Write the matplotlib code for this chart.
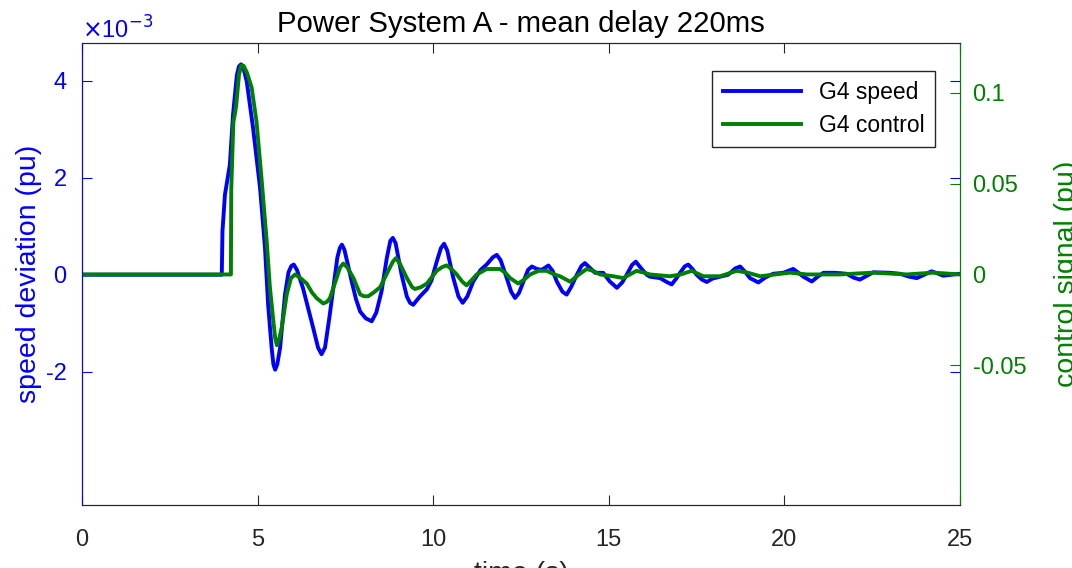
import numpy as np
import matplotlib
matplotlib.use("Agg")
import matplotlib.pyplot as plt

plt.rcParams['font.family'] = ['Liberation Sans', 'DejaVu Sans']
plt.rcParams['axes.unicode_minus'] = False

# G4 speed deviation (x1e-3 pu)
t_speed = [0.0, 3.98, 4.00, 4.07, 4.21, 4.30, 4.41, 4.47, 4.53, 4.60, 4.69, 4.87,
           5.07, 5.21, 5.30, 5.40, 5.45, 5.50, 5.56, 5.64, 5.78, 5.88, 5.96, 6.03,
           6.12, 6.29, 6.45, 6.58, 6.72, 6.82, 6.92, 7.05, 7.15, 7.27, 7.34, 7.40,
           7.47, 7.58, 7.68, 7.80, 7.92, 8.08, 8.25, 8.38, 8.53, 8.68, 8.78, 8.85,
           8.93, 9.10, 9.25, 9.34, 9.43, 9.62, 9.82, 9.95, 10.10, 10.22, 10.31, 10.40,
           10.57, 10.72, 10.84, 10.97, 11.14, 11.35, 11.52, 11.70, 11.81, 11.92, 12.09,
           12.22, 12.33, 12.44, 12.57, 12.70, 12.81, 12.95, 13.09, 13.28, 13.40, 13.52,
           13.68, 13.80, 13.93, 14.09, 14.22, 14.32, 14.45, 14.61, 14.84, 15.03, 15.23,
           15.38, 15.51, 15.66, 15.77, 15.90, 16.08, 16.17, 16.46, 16.65, 16.79, 16.92,
           17.03, 17.16, 17.26, 17.38, 17.50, 17.65, 17.79, 17.95, 18.17, 18.40, 18.60,
           18.74, 18.88, 19.02, 19.26, 19.45, 19.68, 19.97, 20.25, 20.40, 20.54, 20.78,
           20.95, 21.11, 21.44, 21.77, 21.97, 22.15, 22.35, 22.53, 23.01, 23.29, 23.55,
           23.77, 23.98, 24.19, 24.35, 24.52, 25.0]
speed = [0.0, 0.0, 0.9, 1.65, 2.27, 3.30, 4.12, 4.30, 4.34, 4.25, 3.99, 3.03,
         1.79, 0.56, -0.62, -1.51, -1.85, -1.96, -1.85, -1.51, -0.41, 0.05, 0.18, 0.21,
         0.10, -0.27, -0.72, -1.09, -1.50, -1.64, -1.50, -0.85, -0.31, 0.35, 0.55, 0.62,
         0.52, 0.18, -0.14, -0.50, -0.76, -0.90, -0.96, -0.78, -0.34, 0.35, 0.70, 0.76,
         0.65, 0.0, -0.45, -0.58, -0.62, -0.45, -0.30, -0.12, 0.27, 0.55, 0.64, 0.50,
         -0.06, -0.45, -0.58, -0.45, -0.14, 0.10, 0.21, 0.36, 0.41, 0.30, -0.06,
         -0.35, -0.48, -0.38, -0.14, 0.10, 0.17, 0.12, 0.10, 0.19, 0.08, -0.14,
         -0.35, -0.41, -0.25, 0.0, 0.18, 0.24, 0.15, 0.04, 0.04, -0.14, -0.27,
         -0.16, 0.0, 0.20, 0.27, 0.15, 0.0, -0.04, -0.07, -0.15, -0.20, -0.08,
         0.04, 0.17, 0.21, 0.12, 0.0, -0.10, -0.15, -0.08, -0.04, 0.0, 0.13,
         0.17, 0.06, -0.07, -0.16, -0.06, 0.02, 0.04, 0.12, 0.04, -0.04, -0.14,
         -0.04, 0.04, 0.04, 0.02, -0.06, -0.10, -0.02, 0.05, 0.04, 0.02, -0.04,
         -0.07, 0.0, 0.07, 0.03, -0.02, 0.02]

# G4 control signal (pu)
t_ctrl = [0.0, 4.24, 4.25, 4.31, 4.35, 4.39, 4.47, 4.53, 4.60, 4.70, 4.83, 4.97,
          5.12, 5.26, 5.35, 5.45, 5.50, 5.55, 5.62, 5.69, 5.83, 5.95, 6.07, 6.22,
          6.40, 6.55, 6.68, 6.87, 6.98, 7.06, 7.25, 7.35, 7.44, 7.55, 7.73, 7.92,
          8.03, 8.15, 8.30, 8.49, 8.72, 8.85, 8.94, 9.05, 9.25, 9.40, 9.48, 9.65,
          9.82, 10.10, 10.25, 10.38, 10.52, 10.67, 10.83, 10.95, 11.10, 11.24, 11.52,
          11.90, 12.05, 12.19, 12.42, 12.58, 12.76, 13.00, 13.23, 13.45, 13.61, 13.90,
          14.15, 14.37, 14.55, 14.75, 15.13, 15.41, 15.60, 15.79, 16.00, 16.17, 16.74,
          17.05, 17.36, 17.69, 18.17, 18.64, 18.95, 19.31, 20.16, 20.64, 21.58, 22.53,
          23.48, 24.24, 25.0]
ctrl = [0.0, 0.0, 0.047, 0.084, 0.088, 0.093, 0.110, 0.115, 0.115, 0.111, 0.103, 0.084,
        0.051, 0.018, -0.007, -0.026, -0.035, -0.039, -0.035, -0.029, -0.011, -0.002, 0.0, -0.002,
        -0.005, -0.010, -0.013, -0.016, -0.015, -0.013, -0.002, 0.004, 0.006, 0.004, -0.002, -0.011,
        -0.012, -0.012, -0.010, -0.007, 0.002, 0.007, 0.009, 0.006, -0.002, -0.007, -0.008, -0.007,
        -0.005, 0.002, 0.004, 0.005, 0.003, 0.0, -0.004, -0.006, -0.003, 0.0, 0.003,
        0.003, 0.001, -0.002, -0.005, -0.003, 0.0, 0.002, 0.002, 0.0, -0.001, -0.004,
        0.0, 0.003, 0.002, 0.0, -0.001, -0.002, 0.0, 0.002, 0.001, 0.0, -0.001,
        0.0, 0.002, -0.001, -0.001, 0.002, 0.001, -0.001, 0.001, 0.0, 0.0, 0.001,
        0.0, 0.001, 0.0]

x_ticks = [0, 5, 10, 15, 20, 25]
left_ticks = [-2, 0, 2, 4]
right_ticks = [-0.05, 0, 0.05, 0.1]
right_labels = ['-0.05', '0', '0.05', '0.1']

BLUE = '#0000ff'
GREEN = '#008000'
GRAY = '#262626'

fig = plt.figure(figsize=(10.72, 5.68), dpi=100)
ax1 = fig.add_axes([82 / 1072, 63 / 568, 878 / 1072, 462 / 568])
ax2 = ax1.twinx()

l1, = ax1.plot(t_speed, speed, color=BLUE, lw=2.8, label='G4 speed')
l2, = ax2.plot(t_ctrl, ctrl, color=GREEN, lw=2.8, label='G4 control')

ax1.set_xlim(0, 25)
ax1.set_ylim(-4.75, 4.78)
ax2.set_ylim(-0.127, 0.1275)

ax1.set_xticks(x_ticks)
ax1.set_yticks(left_ticks)
ax2.set_yticks(right_ticks)
ax2.set_yticklabels(right_labels)

ax1.tick_params(axis='x', direction='in', length=7, top=True, colors=GRAY,
                labelsize=17, pad=17)
ax1.tick_params(axis='y', direction='in', length=7, right=True, colors=BLUE,
                labelsize=17, pad=11)
ax2.tick_params(axis='y', direction='in', length=7, colors=GREEN,
                labelsize=17, pad=9)

for sp in ('top', 'bottom'):
    ax1.spines[sp].set_color(GRAY)
    ax2.spines[sp].set_color(GRAY)
ax1.spines['left'].set_color(BLUE)
ax2.spines['left'].set_color(BLUE)
ax1.spines['right'].set_color(GREEN)
ax2.spines['right'].set_color(GREEN)

ax1.set_ylabel('speed deviation (pu)', color=BLUE, fontsize=20.5)
ax1.yaxis.set_label_coords(-0.045, 0.5)
ax2.set_ylabel('control signal (pu)', color=GREEN, fontsize=20.5, rotation=90)
ax2.yaxis.set_label_coords(1.107, 0.5)
ax1.set_xlabel('time (s)', color=GRAY, fontsize=20.5)
ax1.xaxis.set_label_coords(0.5, -0.122)

ax1.set_title('Power System A - mean delay 220ms', fontsize=21.2, color='black', pad=8)
ax1.text(0, 0.998, r'$\times$10$^{-3}$', transform=ax1.transAxes, color=BLUE,
         fontsize=17, ha='left', va='bottom')

leg = ax2.legend(handles=[l1, l2], loc='upper right', bbox_to_anchor=(0.9715, 0.939),
                 borderaxespad=0, fontsize=16.5, handlelength=3.4, fancybox=False,
                 framealpha=1, edgecolor=GRAY, borderpad=0.45, labelspacing=0.4)
leg.get_frame().set_linewidth(1.0)

fig.savefig('out.png', dpi=100)
